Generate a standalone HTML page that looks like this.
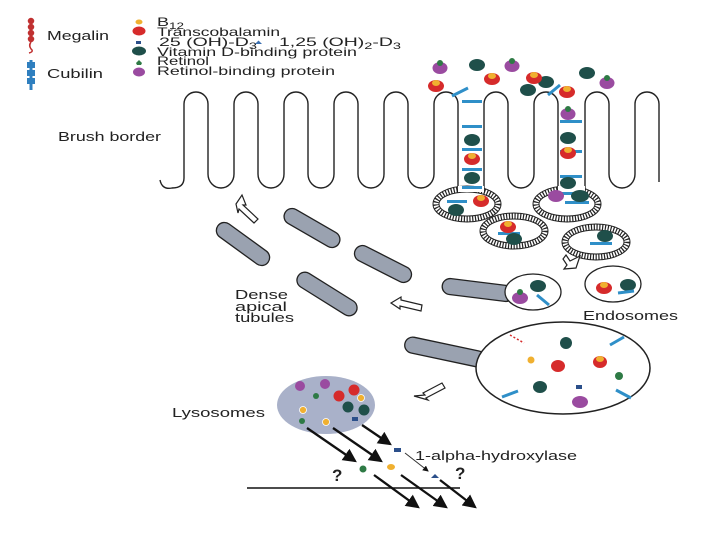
<!DOCTYPE html>
<html><head><style>body{margin:0;background:#fff}svg{display:block}text{font-family:"Liberation Sans",sans-serif;fill:#222}</style></head>
<body>
<svg width="720" height="540" viewBox="0 0 720 540" xmlns="http://www.w3.org/2000/svg">
<defs>
<marker id="ah" markerWidth="6" markerHeight="6" refX="5" refY="3" orient="auto"><path d="M0,0 L6,3 L0,6 z" fill="#111"/></marker>
<g id="coat"><ellipse rx="31" ry="15" fill="none" stroke="#222" stroke-width="6" stroke-dasharray="1.2 1.6"/><ellipse rx="34" ry="18" fill="none" stroke="#222" stroke-width="1"/><ellipse rx="28" ry="12" fill="none" stroke="#222" stroke-width="1"/></g>
</defs>
<!-- legend -->
<g stroke="#c03030" stroke-width="1.5" fill="#c03030">
<line x1="31" y1="19" x2="31" y2="42"/>
<circle cx="31" cy="21" r="2.5"/><circle cx="31" cy="27" r="2.5"/><circle cx="31" cy="33" r="2.5"/><circle cx="31" cy="39" r="2.5"/>
<path d="M31,42 q-3,4 1,8 q1,2 -3,3" fill="none"/>
</g>
<g fill="#2f7fbf"><rect x="29.5" y="60" width="3" height="30"/><rect x="27" y="62" width="8" height="6"/><rect x="27" y="70" width="8" height="6"/><rect x="27" y="78" width="8" height="6"/></g>
<text x="47" y="40" font-size="13" textLength="62" lengthAdjust="spacingAndGlyphs">Megalin</text>
<text x="47" y="78" font-size="13" textLength="56" lengthAdjust="spacingAndGlyphs">Cubilin</text>
<g font-size="12">
<ellipse cx="139" cy="22" rx="3.5" ry="2.5" fill="#f0b030"/><text x="157" y="26" textLength="27" lengthAdjust="spacingAndGlyphs">B<tspan font-size="9" dy="3">12</tspan></text>
<ellipse cx="139" cy="31" rx="6.5" ry="4.5" fill="#d62b2b"/><text x="157" y="36" textLength="123" lengthAdjust="spacingAndGlyphs">Transcobalamin</text>
<rect x="136" y="41" width="5" height="3" fill="#2b4f8a"/><text x="159" y="46" textLength="98" lengthAdjust="spacingAndGlyphs">25 (OH)-D<tspan font-size="9" dy="3">3</tspan></text>
<path d="M255,44 l3.5,-3.5 l3.5,3.5z" fill="#3a6fb0"/><text x="279" y="46" textLength="122" lengthAdjust="spacingAndGlyphs">1,25 (OH)<tspan font-size="9" dy="3">2</tspan><tspan dy="-3">-D</tspan><tspan font-size="9" dy="3">3</tspan></text>
<ellipse cx="139" cy="51" rx="7" ry="4.5" fill="#1f4f4a"/><text x="157" y="56" textLength="200" lengthAdjust="spacingAndGlyphs">Vitamin D-binding protein</text>
<path d="M136,63 l3,-3 l3,3 l-1,2 h-4z" fill="#2e7a45"/><text x="157" y="65" textLength="52" lengthAdjust="spacingAndGlyphs">Retinol</text>
<ellipse cx="139" cy="72" rx="6" ry="4.5" fill="#9a4ba0"/><text x="157" y="75" textLength="178" lengthAdjust="spacingAndGlyphs">Retinol-binding protein</text>
</g>
<text x="58" y="141" font-size="13" textLength="103" lengthAdjust="spacingAndGlyphs">Brush border</text>
<!-- brush border -->
<path d="M160,180 Q162,190 172,188 Q184,188 184,178 V104 A12,12 0 0 1 208,104 V174 A13,14 0 0 0 234,174 V104 A12,12 0 0 1 258,104 V174 A13,14 0 0 0 284,174 V104 A12,12 0 0 1 308,104 V174 A13,14 0 0 0 334,174 V104 A12,12 0 0 1 358,104 V174 A13,14 0 0 0 384,174 V104 A12,12 0 0 1 408,104 V174 A13,14 0 0 0 434,174 V104 A12,12 0 0 1 458,104 V192 M484,192 V104 A12,12 0 0 1 508,104 V174 A13,14 0 0 0 534,174 V104 A12,12 0 0 1 558,104 V192 M585,192 V104 A12,12 0 0 1 609,104 V174 A13,14 0 0 0 635,174 V104 A12,12 0 0 1 659,104 V182" fill="none" stroke="#222" stroke-width="1.4"/>
<!-- coated pits -->
<use href="#coat" x="467" y="204"/><use href="#coat" x="567" y="204"/>
<rect x="458" y="186" width="26" height="6" fill="#fff"/><rect x="558" y="186" width="27" height="6" fill="#fff"/>
<use href="#coat" x="514" y="231"/><use href="#coat" x="596" y="242"/>
<!-- channel contents -->
<g fill="#2f8fc8">
<rect x="462" y="100" width="20" height="3"/><rect x="462" y="125" width="20" height="3"/><rect x="462" y="148" width="20" height="3"/><rect x="462" y="168" width="20" height="3"/><rect x="462" y="186" width="20" height="3"/>
<rect x="560" y="120" width="22" height="3"/><rect x="560" y="150" width="22" height="3"/><rect x="560" y="175" width="22" height="3"/><rect x="560" y="192" width="22" height="3"/>
<rect x="447" y="200" width="20" height="3"/><rect x="565" y="201" width="24" height="3"/>
<rect x="498" y="232" width="22" height="3"/><rect x="590" y="242" width="22" height="3"/>
<path d="M452,96 l16,-8" stroke="#2f8fc8" stroke-width="3"/><path d="M548,95 l12,-10" stroke="#2f8fc8" stroke-width="3"/>
</g>
<g fill="#1f4f4a">
<ellipse cx="472" cy="140" rx="8" ry="6"/><ellipse cx="472" cy="178" rx="8" ry="6"/><ellipse cx="568" cy="138" rx="8" ry="6"/><ellipse cx="568" cy="183" rx="8" ry="6"/>
<ellipse cx="456" cy="210" rx="8" ry="6"/><ellipse cx="580" cy="196" rx="9" ry="6"/><ellipse cx="514" cy="239" rx="8" ry="6"/><ellipse cx="605" cy="236" rx="8" ry="6"/>
<ellipse cx="477" cy="65" rx="8" ry="6"/><ellipse cx="528" cy="90" rx="8" ry="6"/><ellipse cx="546" cy="82" rx="8" ry="6"/><ellipse cx="587" cy="73" rx="8" ry="6"/>
</g>
<g fill="#d62b2b">
<ellipse cx="436" cy="86" rx="8" ry="6"/><ellipse cx="492" cy="79" rx="8" ry="6"/><ellipse cx="534" cy="78" rx="8" ry="6"/><ellipse cx="567" cy="92" rx="8" ry="6"/>
<ellipse cx="472" cy="159" rx="8" ry="6"/><ellipse cx="568" cy="153" rx="8" ry="6"/><ellipse cx="481" cy="201" rx="8" ry="6"/><ellipse cx="508" cy="227" rx="8" ry="6"/>
</g>
<g fill="#f0b030">
<ellipse cx="436" cy="83" rx="4" ry="3"/><ellipse cx="492" cy="76" rx="4" ry="3"/><ellipse cx="534" cy="75" rx="4" ry="3"/><ellipse cx="567" cy="89" rx="4" ry="3"/>
<ellipse cx="472" cy="156" rx="4" ry="3"/><ellipse cx="568" cy="150" rx="4" ry="3"/><ellipse cx="481" cy="198" rx="4" ry="3"/><ellipse cx="508" cy="224" rx="4" ry="3"/>
</g>
<g fill="#9a4ba0">
<ellipse cx="440" cy="68" rx="7.5" ry="6"/><ellipse cx="512" cy="66" rx="7.5" ry="6"/><ellipse cx="607" cy="83" rx="7.5" ry="6"/><ellipse cx="568" cy="114" rx="7.5" ry="6"/><ellipse cx="556" cy="196" rx="8" ry="6"/>
</g>
<g fill="#2e7a45"><circle cx="440" cy="63" r="3"/><circle cx="512" cy="61" r="3"/><circle cx="607" cy="78" r="3"/><circle cx="568" cy="109" r="3"/></g>
<!-- tubules -->
<g stroke="#222" stroke-width="1.3" fill="#9aa2b0">
<rect x="-31" y="-8" width="62" height="16" rx="8" transform="translate(243,244) rotate(36)"/>
<rect x="-31" y="-8" width="62" height="16" rx="8" transform="translate(312,228) rotate(30)"/>
<rect x="-31" y="-8" width="62" height="16" rx="8" transform="translate(383,264) rotate(27)"/>
<rect x="-34" y="-8" width="68" height="16" rx="8" transform="translate(327,294) rotate(32)"/>
<rect x="-36" y="-8" width="72" height="16" rx="8" transform="translate(478,290) rotate(7)"/>
<rect x="-41" y="-8" width="82" height="16" rx="8" transform="translate(445,352) rotate(12)"/>
</g>
<!-- small endosomes -->
<ellipse cx="533" cy="292" rx="28" ry="18" fill="#fff" stroke="#222" stroke-width="1.3"/>
<ellipse cx="613" cy="284" rx="28" ry="18" fill="#fff" stroke="#222" stroke-width="1.3"/>
<ellipse cx="538" cy="286" rx="8" ry="6" fill="#1f4f4a"/><ellipse cx="520" cy="298" rx="8" ry="6" fill="#9a4ba0"/><circle cx="520" cy="292" r="3" fill="#2e7a45"/>
<ellipse cx="604" cy="288" rx="8" ry="6" fill="#d62b2b"/><ellipse cx="604" cy="285" rx="4" ry="3" fill="#f0b030"/><ellipse cx="628" cy="285" rx="8" ry="6" fill="#1f4f4a"/>
<path d="M537,295 l12,10" stroke="#2f8fc8" stroke-width="3"/><path d="M618,293 l16,-2" stroke="#2f8fc8" stroke-width="3"/>
<!-- big endosome -->
<ellipse cx="563" cy="368" rx="87" ry="46" fill="#fff" stroke="#222" stroke-width="1.5"/>
<circle cx="566" cy="343" r="6" fill="#1f4f4a"/><circle cx="531" cy="360" r="3.5" fill="#f0b030"/><ellipse cx="558" cy="366" rx="7" ry="6" fill="#d62b2b"/>
<ellipse cx="600" cy="362" rx="7" ry="6" fill="#d62b2b"/><ellipse cx="600" cy="359" rx="4" ry="3" fill="#f0b030"/>
<circle cx="619" cy="376" r="4" fill="#2e7a45"/><ellipse cx="540" cy="387" rx="7" ry="6" fill="#1f4f4a"/><rect x="576" y="385" width="6" height="4" fill="#2b4f8a"/>
<ellipse cx="580" cy="402" rx="8" ry="6" fill="#9a4ba0"/>
<path d="M502,397 l16,-6 M616,390 l15,8 M610,345 l14,-8" stroke="#2f8fc8" stroke-width="3"/>
<path d="M510,335 l14,8" stroke="#d62b2b" stroke-width="1.5" stroke-dasharray="2 2"/>
<!-- lysosome -->
<ellipse cx="326" cy="405" rx="49" ry="29" fill="#a9b1c9"/>
<g fill="#9a4ba0"><circle cx="300" cy="386" r="5"/><circle cx="325" cy="384" r="5"/></g>
<g fill="#d62b2b"><circle cx="339" cy="396" r="5.5"/><circle cx="354" cy="390" r="5.5"/></g>
<g fill="#1f4f4a"><circle cx="348" cy="407" r="5.5"/><circle cx="364" cy="410" r="5.5"/></g>
<g fill="#f0b030" stroke="#fff" stroke-width=".8"><circle cx="303" cy="410" r="3.5"/><circle cx="326" cy="422" r="3.5"/><circle cx="361" cy="398" r="3.5"/></g>
<circle cx="316" cy="396" r="3" fill="#2e7a45"/><circle cx="302" cy="421" r="3" fill="#2e7a45"/><rect x="352" y="417" width="6" height="4" fill="#2b4f8a"/>
<!-- arrows -->
<g stroke="#111" stroke-width="2.3" marker-end="url(#ah)">
<line x1="307" y1="428" x2="355" y2="461"/><line x1="333" y1="428" x2="381" y2="461"/><line x1="362" y1="425" x2="390" y2="444"/>
<line x1="374" y1="475" x2="418" y2="507"/><line x1="401" y1="475" x2="446" y2="507"/><line x1="440" y1="480" x2="475" y2="507"/>
</g>
<line x1="405" y1="453" x2="428" y2="471" stroke="#333" stroke-width="1" marker-end="url(#ah)"/>
<line x1="247" y1="488" x2="460" y2="488" stroke="#111" stroke-width="1.5"/>
<rect x="394" y="448" width="7" height="4" fill="#2b4f8a"/><path d="M431,478 l4,-4 l4,4z" fill="#2b4f8a"/>
<circle cx="363" cy="469" r="3.5" fill="#2e7a45"/><ellipse cx="391" cy="467" rx="4" ry="3" fill="#f0b030"/>
<text x="332" y="481" font-size="17" font-weight="bold">?</text><text x="455" y="479" font-size="17" font-weight="bold">?</text>
<text x="415" y="460" font-size="12.5" textLength="162" lengthAdjust="spacingAndGlyphs">1-alpha-hydroxylase</text>
<!-- hollow arrows -->
<g fill="#fff" stroke="#222" stroke-width="1.2">
<path d="M236,204 l6,-9 l4,10 l-3,0 l15,14 l-4,4 l-15,-14 l-1,4z"/>
<path d="M566,255 l4,6 l10,-5 l-4,12 l-12,1 l3,-4 l-4,-6z"/>
<path d="M391,303 l10,-6 l0,3 l21,5 l-1,6 l-21,-5 l0,3z"/>
<path d="M414,396 l11,-1 l-2,-2 l19,-10 l3,5 l-19,10 l2,2z"/>
</g>
<text x="235" y="299" font-size="12.5" textLength="53" lengthAdjust="spacingAndGlyphs">Dense</text><text x="235" y="311" font-size="12.5" textLength="52" lengthAdjust="spacingAndGlyphs">apical</text><text x="235" y="322" font-size="12.5" textLength="59" lengthAdjust="spacingAndGlyphs">tubules</text>
<text x="583" y="320" font-size="12.5" textLength="95" lengthAdjust="spacingAndGlyphs">Endosomes</text>
<text x="172" y="417" font-size="12.5" textLength="93" lengthAdjust="spacingAndGlyphs">Lysosomes</text>
</svg>
</body></html>
